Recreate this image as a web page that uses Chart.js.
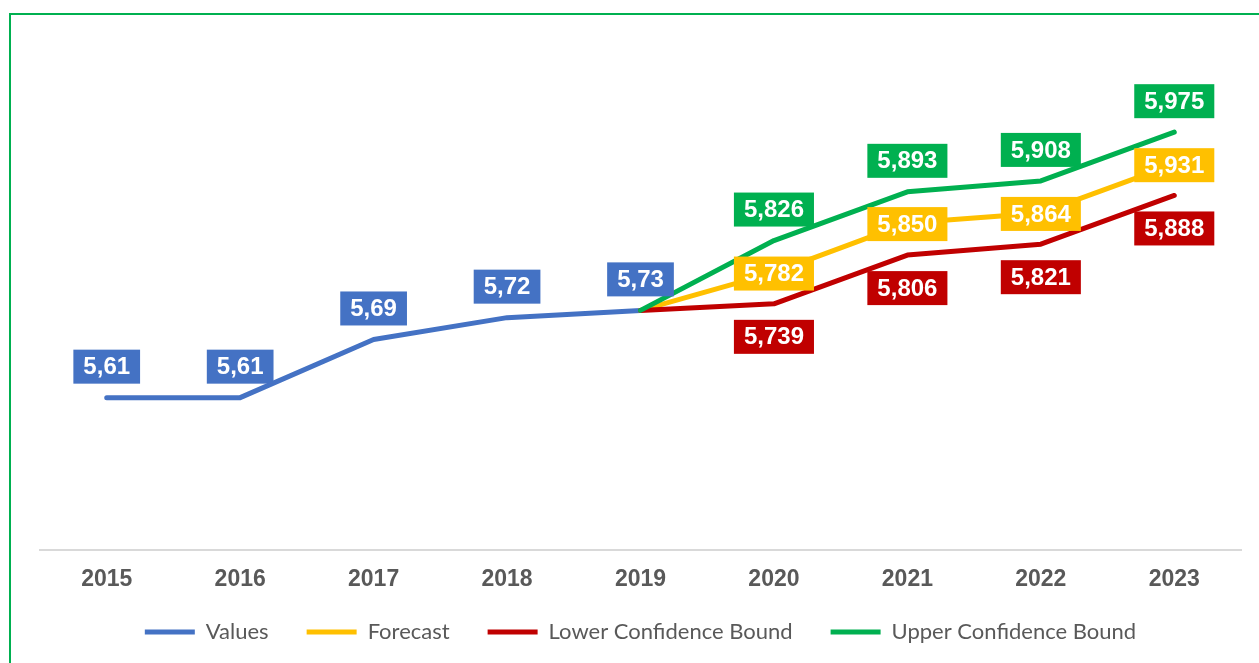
<!DOCTYPE html>
<html>
<head>
<meta charset="utf-8">
<script src="https://cdn.jsdelivr.net/npm/chart.js@4/dist/chart.umd.min.js"></script>
<style>
  html, body { margin: 0; padding: 0; background: #fff; overflow: hidden; }
  #frame { position: absolute; left: 9px; top: 13px; width: 1400px; height: 800px;
           border-top: 2px solid #00B050; border-left: 2px solid #00B050; }
  #chartArea { position: absolute; left: 0; top: 0; width: 1259px; height: 670px; }
</style>
</head>
<body>
<div id="frame"></div>
<div id="chartArea"><canvas id="chart"></canvas></div>
<script>
const years = ['2015', '2016', '2017', '2018', '2019', '2020', '2021', '2022', '2023'];
const values = [5.61, 5.61, 5.69, 5.72, 5.73, null, null, null, null];
const forecast = [null, null, null, null, 5.73, 5.782, 5.850, 5.864, 5.931];
const lowerBound = [null, null, null, null, 5.73, 5.739, 5.806, 5.821, 5.888];
const upperBound = [null, null, null, null, 5.73, 5.826, 5.893, 5.908, 5.975];

const blue = '#4472C4';
const yellow = '#FFC000';
const red = '#C00000';
const green = '#00B050';

// draws the value labels as filled boxes like in excel
const boxLabels = {
  id: 'boxLabels',
  afterLayout(chart) {
    // pull the legend a bit closer to the axis
    chart.legend.top -= 17;
    chart.legend.bottom -= 17;
  },
  afterDatasetsDraw(chart) {
    const ctx = chart.ctx;
    ctx.save();
    ctx.font = 'bold 24px "Liberation Sans", Arial, sans-serif';
    ctx.textAlign = 'center';
    ctx.textBaseline = 'middle';
    chart.data.datasets.forEach((ds, i) => {
      const meta = chart.getDatasetMeta(i);
      meta.data.forEach((pt, j) => {
        if (ds.data[j] == null || j < ds.labelFrom) return;
        const text = ds.data[j].toFixed(ds.decimals).replace('.', ',');
        const w = ctx.measureText(text).width + 20;
        const h = 34;
        const cx = pt.x;
        const cy = pt.y + ds.labelShift;
        ctx.fillStyle = ds.borderColor;
        ctx.fillRect(cx - w / 2, cy - h / 2, w, h);
        ctx.fillStyle = '#fff';
        ctx.fillText(text, cx, cy + 1);
      });
    });
    ctx.restore();
  },
};

function lineSet(label, data, color, order, decimals, labelFrom, labelShift) {
  return {
    label: label,
    data: data,
    borderColor: color,
    backgroundColor: color,
    borderWidth: 5,
    borderCapStyle: 'round',
    borderJoinStyle: 'round',
    pointRadius: 0,
    tension: 0,
    order: order,
    decimals: decimals,
    labelFrom: labelFrom,
    labelShift: labelShift,
  };
}

const ctx = document.getElementById('chart').getContext('2d');
const chart = new Chart(ctx, {
  type: 'line',
  data: {
    labels: years,
    datasets: [
      lineSet('Values', values, blue, 4, 2, 0, -31),
      lineSet('Forecast', forecast, yellow, 3, 3, 5, 1),
      lineSet('Lower Confidence Bound', lowerBound, red, 2, 3, 5, 33),
      lineSet('Upper Confidence Bound', upperBound, green, 1, 3, 5, -31),
    ],
  },
  options: {
    responsive: true,
    maintainAspectRatio: false,
    animation: false,
    layout: {
      padding: { left: 40, right: 18, top: 114, bottom: 0 },
    },
    scales: {
      x: {
        offset: true,
        grid: { display: false, offset: true },
        border: { display: true, color: '#D9D9D9', width: 2 },
        ticks: {
          color: '#595959',
          font: { family: '"Liberation Sans", Arial, sans-serif', size: 23, weight: 'bold' },
          padding: 7,
          maxRotation: 0,
        },
      },
      y: {
        display: false,
        min: 5.4,
        max: 6.0,
      },
    },
    plugins: {
      tooltip: { enabled: false },
      legend: {
        position: 'bottom',
        labels: {
          boxWidth: 50,
          boxHeight: 5,
          padding: 38,
          color: '#595959',
          font: { family: 'Lato, "Open Sans", sans-serif', size: 22 },
          generateLabels: (c) =>
            Chart.defaults.plugins.legend.labels
              .generateLabels(c)
              .map((l) => ({ ...l, lineWidth: 0 }))
              .sort((a, b) => a.datasetIndex - b.datasetIndex),
        },
      },
    },
  },
  plugins: [boxLabels],
});
</script>
</body>
</html>
